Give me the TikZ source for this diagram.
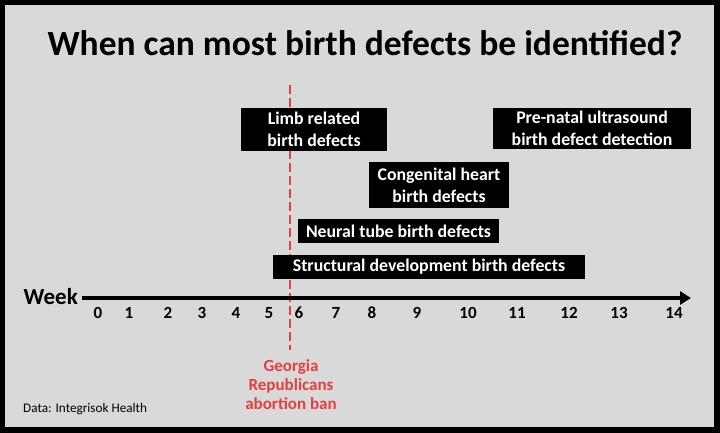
\documentclass[tikz,border=0pt]{standalone}
\usepackage{fontspec}
\setmainfont{Carlito}
\usetikzlibrary{arrows.meta}
\definecolor{bg}{RGB}{217,217,217}
\definecolor{banred}{RGB}{228,64,60}
\tikzset{
  defbox/.style={fill=black, text=white, font=\fontsize{17.8}{22}\selectfont\bfseries, align=center, inner sep=0pt},
  tick/.style={font=\fontsize{17}{19}\selectfont\bfseries},
}
\begin{document}
\begin{tikzpicture}[x=1pt,y=-1pt]
\useasboundingbox (0,0) rectangle (720,433);
\fill[black] (0,0) rectangle (720,433);
\fill[bg] (5,5) rectangle (714,427);
% title
\node[font=\fontsize{35.5}{40}\selectfont\bfseries] (title) at (365,43) {When can most birth defects be identified?};
% red ban line
\coordinate (bantop) at (290,85);
\coordinate (banbot) at (290,350);
\draw[banred, line width=2.5pt, dash pattern=on 9pt off 4pt] (bantop) -- (banbot);
% boxes
\node[defbox, minimum width=146pt, minimum height=43pt] (limb) at (314,129.5) {Limb related\\birth defects};
\node[defbox, minimum width=198pt, minimum height=41pt] (pre) at (592,128.5) {Pre-natal ultrasound\\birth defect detection};
\node[defbox, minimum width=140pt, minimum height=46pt] (heart) at (439,185) {Congenital heart\\birth defects};
\node[defbox, minimum width=201pt, minimum height=24pt] (neural) at (398.5,231) {Neural tube birth defects};
\node[defbox, minimum width=312pt, minimum height=24pt] (struct) at (429,267) {Structural development birth defects};
% axis
\node[font=\fontsize{23}{25}\selectfont\bfseries, anchor=east, inner sep=0pt] (week) at (78,297) {Week};
\coordinate (axend) at (691,298);
\draw[line width=3.5pt, -{Triangle[length=11pt,width=13pt]}] (82,298) coordinate (axstart) -- (axend);
\foreach \n/\x in {0/98,1/129,2/168,3/202,4/236,5/269,6/299,7/336,8/372,9/417,10/468,11/517,12/569,13/619,14/674}{
  \node[tick] (t\n) at (\x,313) {\n};
}
% ban label
\node[text=banred, font=\fontsize{17}{19}\selectfont\bfseries, align=center] (ban) at (291,385) {Georgia\\Republicans\\abortion ban};
% source
\node[font=\fontsize{13.2}{15}\selectfont, anchor=west, inner sep=0pt] (src) at (23,409) {Data: Integrisok Health};
\end{tikzpicture}
\end{document}
